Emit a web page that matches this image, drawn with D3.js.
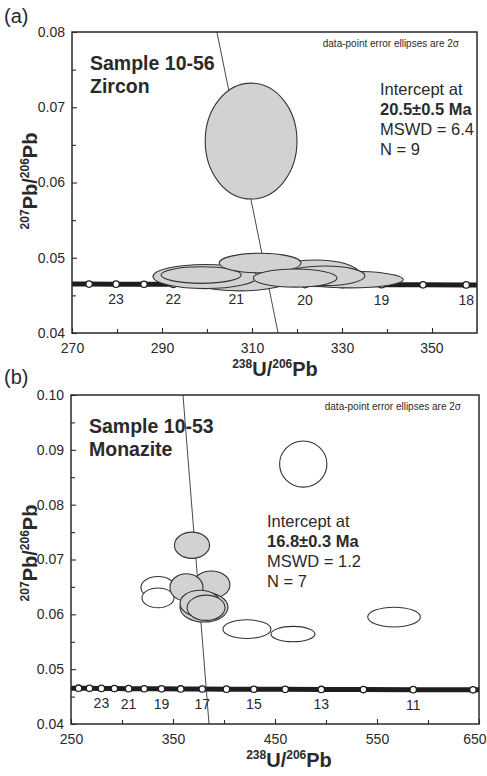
<!DOCTYPE html>
<html lang="en">
<head>
<meta charset="utf-8">
<title>Tera-Wasserburg concordia plots</title>
<script src="https://cdn.jsdelivr.net/npm/d3@7/dist/d3.min.js"></script>
<style>
  body { margin: 0; background: #fff; }
  svg text { font-family: "Liberation Sans", Arial, Helvetica, sans-serif; fill: #2a2a2a; }
</style>
</head>
<body>
<script>
// ---- panel (a): zircon, sample 10-56 ----
const zirconX  = [309.8, 331.8, 307.3, 299.6, 324.0, 326.2, 298.7, 311.8, 319.6];
const zirconY  = [0.0655, 0.0471, 0.0471, 0.0475, 0.0480, 0.0476, 0.0477, 0.0493, 0.0473];
const zirconRx = [10.2, 11.8, 11.1, 11.6, 9.6, 8.9, 8.9, 9.1, 9.3];
const zirconRy = [0.0077, 0.0011, 0.0015, 0.0016, 0.0017, 0.0013, 0.0011, 0.0013, 0.0012];
// concordia age markers (Ma) and their 238U/206Pb, 207Pb/206Pb
const ageMarksA  = [23.5, 23, 22.5, 22, 21.5, 21, 20.5, 20, 19.5, 19, 18.5, 18];
const ageU_A     = [273.8, 279.8, 286.0, 292.5, 299.3, 306.5, 314.0, 321.8, 330.1, 338.8, 348.0, 357.6];
const agePb_A    = [0.04650, 0.04649, 0.04648, 0.04647, 0.04646, 0.04645, 0.04644, 0.04643, 0.04642, 0.04641, 0.04640, 0.04639];
const ageLabelsA = [23, 22, 21, 20, 19, 18];
const discordiaA = [[302.2, 0.08], [315.8, 0.04]];

// ---- panel (b): monazite, sample 10-53 ----
const monaziteX  = [477.7, 422.5, 467.6, 566.7, 335.3, 335.3, 368.6, 387.7, 363.2, 380.4, 376.5, 382.4];
const monaziteY  = [0.0874, 0.0573, 0.0564, 0.0595, 0.0649, 0.0630, 0.0726, 0.0654, 0.0649, 0.0613, 0.0620, 0.0612];
const monaziteRx = [23.2, 23.5, 21.6, 25.8, 16.7, 15.7, 17.2, 18.1, 16.2, 23.5, 19.6, 18.6];
const monaziteRy = [0.0042, 0.0017, 0.0014, 0.0018, 0.0020, 0.0018, 0.0024, 0.0025, 0.0025, 0.0027, 0.0024, 0.0023];
const monaziteUsed = [false, false, false, false, false, false, true, true, true, true, true, true];
const ageMarksB  = [25, 24, 23, 22, 21, 20, 19, 18, 17, 16, 15, 14, 13, 12, 11, 10];
const ageU_B     = [257.4, 268.1, 279.8, 292.5, 306.5, 321.8, 338.8, 357.6, 378.7, 402.4, 429.3, 460.0, 495.4, 536.7, 585.5, 644.1];
const agePb_B    = [0.04653, 0.04651, 0.04649, 0.04647, 0.04645, 0.04643, 0.04641, 0.04639, 0.04638, 0.04636, 0.04634, 0.04632, 0.04630, 0.04628, 0.04626, 0.04624];
const ageLabelsB = [23, 21, 19, 17, 15, 13, 11];
const discordiaB = [[359.8, 0.10], [385.3, 0.04]];

const svg = d3.select("body").append("svg")
    .attr("width", 487).attr("height", 776);

const fillGray = "#d2d2d2";
const inkColor = "#2a2a2a";

function drawPanel(p) {
  const x = d3.scaleLinear().domain(p.xDomain).range([p.left, p.right]);
  const y = d3.scaleLinear().domain(p.yDomain).range([p.bottom, p.top]);
  const g = svg.append("g");

  const clipId = "clip-" + p.letter;
  svg.append("clipPath").attr("id", clipId).append("rect")
     .attr("x", p.left).attr("y", p.top)
     .attr("width", p.right - p.left).attr("height", p.bottom - p.top);
  const plot = g.append("g").attr("clip-path", `url(#${clipId})`);

  // concordia band
  const cPts = p.ageU.map((u, i) => [u, p.agePb[i]]);
  const first = cPts[0], last = cPts[cPts.length - 1];
  const band = [[p.xDomain[0] - 5, first[1]], ...cPts, [p.xDomain[1] + 5, last[1]]];
  plot.append("path")
      .attr("d", d3.line().x(d => x(d[0])).y(d => y(d[1]))(band))
      .attr("fill", "none").attr("stroke", "#1e1e1e").attr("stroke-width", 5);
  plot.selectAll(".mark").data(cPts).enter().append("circle")
      .attr("cx", d => x(d[0])).attr("cy", d => y(d[1])).attr("r", 3.2)
      .attr("fill", "#fff").attr("stroke", "#1e1e1e").attr("stroke-width", 1.3);

  // discordia (regression) line
  plot.append("line")
      .attr("x1", x(p.discordia[0][0])).attr("y1", y(p.discordia[0][1]))
      .attr("x2", x(p.discordia[1][0])).attr("y2", y(p.discordia[1][1]))
      .attr("stroke", "#333").attr("stroke-width", 0.9);

  // error ellipses
  plot.selectAll(".ell").data(p.ex).enter().append("ellipse")
      .attr("cx", (d, i) => x(d))
      .attr("cy", (d, i) => y(p.ey[i]))
      .attr("rx", (d, i) => x(p.xDomain[0] + p.erx[i]) - x(p.xDomain[0]))
      .attr("ry", (d, i) => y(p.yDomain[0]) - y(p.yDomain[0] + p.ery[i]))
      .attr("fill", (d, i) => p.filled[i] ? fillGray : "#fff")
      .attr("stroke", "#333").attr("stroke-width", 1.1);

  // age labels under concordia
  g.selectAll(".agelab").data(p.ageLabels).enter().append("text")
      .attr("x", d => x(p.ageU[p.ages.indexOf(d)]))
      .attr("y", d => y(p.agePb[p.ages.indexOf(d)]) + 20)
      .attr("text-anchor", "middle").attr("font-size", 14)
      .text(d => d);

  // frame
  g.append("rect")
      .attr("x", p.left).attr("y", p.top)
      .attr("width", p.right - p.left).attr("height", p.bottom - p.top)
      .attr("fill", "none").attr("stroke", inkColor).attr("stroke-width", 1.5);

  // axes: inward ticks, labels outside
  const xAxis = d3.axisBottom(x).tickValues(p.xTicks).tickSize(-5).tickPadding(10).tickFormat(d3.format("d"));
  const gx = g.append("g").attr("transform", `translate(0,${p.bottom})`).call(xAxis);
  const xMinor = d3.axisBottom(x).tickValues(p.xMinor).tickSize(-4).tickFormat("");
  g.append("g").attr("transform", `translate(0,${p.bottom})`).call(xMinor);
  const yAxis = d3.axisLeft(y).tickValues(p.yTicks).tickSize(-5).tickPadding(7).tickFormat(d3.format(".2f"));
  const gy = g.append("g").attr("transform", `translate(${p.left},0)`).call(yAxis);
  const yMinor = d3.axisLeft(y).tickValues(p.yMinor).tickSize(-4).tickFormat("");
  g.append("g").attr("transform", `translate(${p.left},0)`).call(yMinor);
  g.selectAll(".domain").remove();
  g.selectAll(".tick line").attr("stroke", inkColor).attr("stroke-width", 1.1);
  g.selectAll(".tick text").attr("font-size", 14).attr("fill", "#3a3a3a")
     .attr("font-family", "Liberation Sans, Arial, sans-serif");
  // last x label sits against the page edge, as in the original
  gx.selectAll(".tick:last-of-type text").attr("text-anchor", "end").attr("dx", p.lastLabelDx);

  // axis titles
  const xt = g.append("text").attr("x", p.xTitleX).attr("y", p.bottom + 43)
      .attr("text-anchor", "middle").attr("font-weight", "bold").attr("font-size", 20);
  xt.append("tspan").attr("font-size", 12).attr("dy", -8).text("238");
  xt.append("tspan").attr("dy", 8).text("U/");
  xt.append("tspan").attr("font-size", 12).attr("dy", -8).text("206");
  xt.append("tspan").attr("dy", 8).text("Pb");

  const yt = g.append("text")
      .attr("transform", `translate(${37},${p.yTitleY}) rotate(-90)`)
      .attr("text-anchor", "middle").attr("font-weight", "bold").attr("font-size", 20);
  yt.append("tspan").attr("font-size", 12).attr("dy", -8).text("207");
  yt.append("tspan").attr("dy", 8).text("Pb/");
  yt.append("tspan").attr("font-size", 12).attr("dy", -8).text("206");
  yt.append("tspan").attr("dy", 8).text("Pb");

  // panel letter
  g.append("text").attr("x", 4).attr("y", p.letterY).attr("font-size", 20).text(`(${p.letter})`);

  // sample name
  g.append("text").attr("x", p.left + 18).attr("y", p.top + 38)
      .attr("font-size", 19.5).attr("font-weight", "bold").text(p.sample);
  g.append("text").attr("x", p.left + 18).attr("y", p.top + 61)
      .attr("font-size", 19.5).attr("font-weight", "bold").text(p.mineral);

  // note
  g.append("text").attr("x", p.right - 18).attr("y", p.top + 15)
      .attr("text-anchor", "end").attr("font-size", 10).text("data-point error ellipses are 2σ");

  // intercept block
  const lines = [["Intercept at", "normal"], [p.intercept, "bold"], [p.mswd, "normal"], [p.n, "normal"]];
  g.selectAll(".ib").data(lines).enter().append("text")
      .attr("x", p.interceptX).attr("y", (d, i) => p.interceptY + i * 20)
      .attr("font-size", 16.5).attr("font-weight", d => d[1]).text(d => d[0]);
}

drawPanel({
  letter: "a", letterY: 23,
  left: 72, right: 477, top: 32, bottom: 333,
  xDomain: [270, 360], yDomain: [0.04, 0.08],
  xTicks: [270, 290, 310, 330, 350], xMinor: [280, 300, 320, 340],
  yTicks: [0.04, 0.05, 0.06, 0.07, 0.08], yMinor: [0.045, 0.055, 0.065, 0.075],
  ex: zirconX, ey: zirconY, erx: zirconRx, ery: zirconRy, filled: zirconX.map(() => true),
  ages: ageMarksA, ageU: ageU_A, agePb: agePb_A, ageLabels: ageLabelsA,
  discordia: discordiaA, lastLabelDx: 11,
  xTitleX: 275, yTitleY: 181,
  sample: "Sample 10-56", mineral: "Zircon",
  intercept: "20.5±0.5 Ma", mswd: "MSWD = 6.4", n: "N = 9",
  interceptX: 380, interceptY: 95
});

drawPanel({
  letter: "b", letterY: 384,
  left: 71, right: 479, top: 395, bottom: 724,
  xDomain: [250, 650], yDomain: [0.04, 0.10],
  xTicks: [250, 350, 450, 550, 650], xMinor: [300, 400, 500, 600],
  yTicks: [0.04, 0.05, 0.06, 0.07, 0.08, 0.09, 0.10], yMinor: [0.045, 0.055, 0.065, 0.075, 0.085, 0.095],
  ex: monaziteX, ey: monaziteY, erx: monaziteRx, ery: monaziteRy, filled: monaziteUsed,
  ages: ageMarksB, ageU: ageU_B, agePb: agePb_B, ageLabels: ageLabelsB,
  discordia: discordiaB, lastLabelDx: 7,
  xTitleX: 289, yTitleY: 553,
  sample: "Sample 10-53", mineral: "Monazite",
  intercept: "16.8±0.3 Ma", mswd: "MSWD = 1.2", n: "N = 7",
  interceptX: 267, interceptY: 527
});
</script>
</body>
</html>
